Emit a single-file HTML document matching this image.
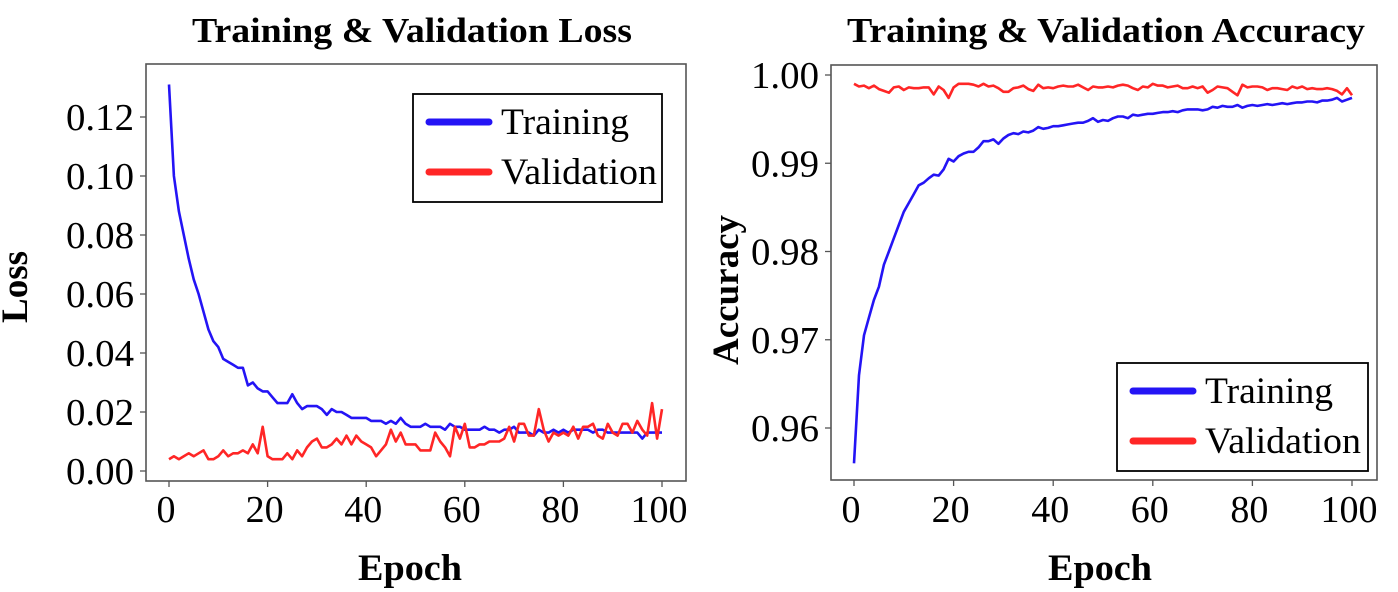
<!DOCTYPE html>
<html><head><meta charset="utf-8"><style>
html,body{margin:0;padding:0;background:#fff;}
svg{display:block;font-family:"Liberation Serif","Times New Roman",serif;}
svg text{font-family:"Liberation Serif","Times New Roman",serif;}
</style></head><body>
<svg id="chart" width="1398" height="592" viewBox="0 0 1398 592">
<g id="left"></g>
<g id="right"></g>
</svg>
<script>
const lossTicks = [0, 0.02, 0.04, 0.06, 0.08, 0.10, 0.12];
const lossTickLabels = ["0.00","0.02","0.04","0.06","0.08","0.10","0.12"];
const accTicks = [0.96, 0.97, 0.98, 0.99, 1.00];
const accTickLabels = ["0.96","0.97","0.98","0.99","1.00"];
const epochTicks = [0, 20, 40, 60, 80, 100];
const epochTickLabels = ["0","20","40","60","80","100"];
const trainLoss = [0.131,0.100,0.088,0.080,0.072,0.065,0.060,0.054,0.048,0.044,0.042,0.038,0.037,0.036,0.035,0.035,0.029,0.030,0.028,0.027,0.027,0.025,0.023,0.023,0.023,0.026,0.023,0.021,0.022,0.022,0.022,0.021,0.019,0.021,0.020,0.020,0.019,0.018,0.018,0.018,0.018,0.017,0.017,0.017,0.016,0.017,0.016,0.018,0.016,0.015,0.015,0.015,0.016,0.015,0.015,0.015,0.014,0.016,0.015,0.015,0.014,0.014,0.014,0.014,0.015,0.014,0.014,0.013,0.014,0.014,0.015,0.013,0.013,0.013,0.012,0.014,0.013,0.013,0.014,0.013,0.014,0.013,0.014,0.014,0.014,0.014,0.013,0.014,0.014,0.013,0.013,0.013,0.013,0.013,0.013,0.013,0.011,0.013,0.013,0.013,0.013];
const valLoss = [0.004,0.005,0.004,0.005,0.006,0.005,0.006,0.007,0.004,0.004,0.005,0.007,0.005,0.006,0.006,0.007,0.006,0.009,0.006,0.015,0.005,0.004,0.004,0.004,0.006,0.004,0.007,0.005,0.008,0.010,0.011,0.008,0.008,0.009,0.011,0.009,0.012,0.009,0.012,0.010,0.009,0.008,0.005,0.007,0.009,0.014,0.010,0.013,0.009,0.009,0.009,0.007,0.007,0.007,0.013,0.010,0.008,0.005,0.015,0.011,0.016,0.008,0.008,0.009,0.009,0.010,0.010,0.010,0.011,0.015,0.010,0.016,0.016,0.012,0.012,0.021,0.014,0.010,0.013,0.012,0.013,0.012,0.015,0.011,0.015,0.015,0.016,0.012,0.011,0.016,0.013,0.012,0.016,0.016,0.013,0.017,0.014,0.012,0.023,0.011,0.021];
const trainAcc = [0.956,0.966,0.9705,0.9725,0.9745,0.9760,0.9785,0.9800,0.9815,0.9830,0.9845,0.9855,0.9865,0.9875,0.9878,0.9883,0.9887,0.9886,0.9893,0.9905,0.9902,0.9908,0.9911,0.9913,0.9913,0.9918,0.9925,0.9925,0.9927,0.9922,0.9928,0.9932,0.9934,0.9933,0.9936,0.9935,0.9937,0.9941,0.9939,0.9940,0.9942,0.9942,0.9943,0.9944,0.9945,0.9946,0.9946,0.9948,0.9951,0.9947,0.9949,0.9948,0.9951,0.9953,0.9953,0.9951,0.9955,0.9954,0.9955,0.9956,0.9956,0.9957,0.9958,0.9958,0.9959,0.9958,0.9960,0.9961,0.9961,0.9961,0.9960,0.9961,0.9964,0.9963,0.9965,0.9964,0.9964,0.9966,0.9963,0.9965,0.9966,0.9965,0.9966,0.9967,0.9966,0.9967,0.9968,0.9967,0.9968,0.9969,0.9969,0.9970,0.9970,0.9969,0.9971,0.9971,0.9972,0.9974,0.9970,0.9972,0.9974];
const valAcc = [0.9990,0.9987,0.9988,0.9985,0.9988,0.9984,0.9982,0.9980,0.9986,0.9987,0.9983,0.9986,0.9985,0.9985,0.9986,0.9986,0.9978,0.9987,0.9983,0.9974,0.9986,0.9990,0.9990,0.9990,0.9989,0.9987,0.9990,0.9987,0.9988,0.9985,0.9981,0.9981,0.9985,0.9986,0.9988,0.9984,0.9982,0.9989,0.9985,0.9986,0.9985,0.9987,0.9988,0.9987,0.9987,0.9989,0.9986,0.9983,0.9987,0.9986,0.9986,0.9987,0.9986,0.9988,0.9989,0.9988,0.9985,0.9983,0.9987,0.9986,0.9990,0.9988,0.9988,0.9986,0.9987,0.9988,0.9985,0.9985,0.9987,0.9985,0.9987,0.9980,0.9983,0.9987,0.9986,0.9985,0.9981,0.9977,0.9989,0.9986,0.9987,0.9987,0.9986,0.9983,0.9985,0.9985,0.9984,0.9983,0.9987,0.9985,0.9987,0.9984,0.9985,0.9984,0.9984,0.9985,0.9984,0.9982,0.9978,0.9985,0.9977];

const NS = "http://www.w3.org/2000/svg";
const FONT = '"Liberation Serif", "Times New Roman", serif';
function mk(parent, tag, attrs, text) {
  const e = document.createElementNS(NS, tag);
  for (const k in attrs) e.setAttribute(k, attrs[k]);
  if (tag === "text") e.setAttribute("font-family", FONT);
  if (text !== undefined) e.textContent = text;
  parent.appendChild(e);
  return e;
}
function linScale(d0, d1, r0, r1) { return v => r0 + (v - d0) / (d1 - d0) * (r1 - r0); }

function drawChart(g, cfg) {
  const xs = linScale(0, 100, cfg.x0, cfg.x100);
  const ys = linScale(cfg.yv0, cfg.yv1, cfg.yp0, cfg.yp1);
  let t = mk(g, "text", {x: cfg.titleX, y: 42, "font-size": 35, "font-weight": "bold", "text-anchor": "middle", textLength: cfg.titleW, lengthAdjust: "spacingAndGlyphs"}, cfg.title);
  
  
  let f = mk(g, "rect", {x: cfg.fx, y: cfg.fy, width: cfg.fw, height: cfg.fh, fill: "none", stroke: "#555", "stroke-width": 1.6});
  
  
  cfg.yTicks.forEach((v, i) => {
    const y = ys(v);
    let tk = mk(g, "line", {x1: cfg.fx - 6, x2: cfg.fx, y1: y, y2: y, stroke: "#555", "stroke-width": 1.3});
    
    
    let lb = mk(g, "text", {x: cfg.fx - 12, y: y + 13, "font-size": 38, "text-anchor": "end", textLength: 68, lengthAdjust: "spacingAndGlyphs"}, cfg.yLabels[i]);
    
    
  });
  epochTicks.forEach((v, i) => {
    const x = xs(v);
    let tk = mk(g, "line", {x1: x, x2: x, y1: cfg.fy + cfg.fh, y2: cfg.fy + cfg.fh + 6, stroke: "#555", "stroke-width": 1.3});
    
    
    let lb = mk(g, "text", {x: x - 3, y: 522, "font-size": 38, "text-anchor": "middle"}, epochTickLabels[i]);
    
    
  });
  let xl = mk(g, "text", {x: cfg.xlabX, y: 580, "font-size": 37, "font-weight": "bold", "text-anchor": "middle", textLength: 104, lengthAdjust: "spacingAndGlyphs"}, "Epoch");
  
  
  let yl = mk(g, "text", {x: 0, y: 0, "font-size": 37, "font-weight": "bold", "text-anchor": "middle", transform: `translate(${cfg.ylabX},${cfg.ylabY}) rotate(-90)`}, cfg.yTitle);
  
  
  const series = [[cfg.train, "#2414f5", "training-line"], [cfg.val, "#ff2626", "validation-line"]];
  series.forEach(([arr, col, name]) => {
    const n = arr.length;
    const pts = arr.map((v, i) => xs(i * 100 / (n - 1)).toFixed(1) + "," + ys(v).toFixed(1)).join(" ");
    let pl = mk(g, "polyline", {points: pts, fill: "none", stroke: col, "stroke-width": 2.6, "stroke-linejoin": "round"});
    
    
  });
  const L = cfg.leg;
  let lg = mk(g, "g", {});
  
  
  mk(lg, "rect", {x: L.x, y: L.y, width: L.w, height: L.h, fill: "#fff", stroke: "#000", "stroke-width": 1.8});
  [["Training", "#2414f5", 28, 128], ["Validation", "#ff2626", 78, 156]].forEach(([lab, col, dy, tl]) => {
    let ln = mk(lg, "line", {x1: L.x + 16, x2: L.x + 76, y1: L.y + dy, y2: L.y + dy, stroke: col, "stroke-width": 7, "stroke-linecap": "round"});
    
    
    let tx = mk(lg, "text", {x: L.x + 88, y: L.y + dy + 12, "font-size": 37, textLength: tl, lengthAdjust: "spacingAndGlyphs"}, lab);
    
    
  });
}

drawChart(document.getElementById("left"), {
  title: "Training & Validation Loss", titleX: 412, titleW: 440,
  fx: 146, fy: 64, fw: 540, fh: 417,
  x0: 169, x100: 662, yv0: 0, yv1: 0.12, yp0: 471, yp1: 117,
  yTicks: lossTicks, yLabels: lossTickLabels, yTitle: "Loss",
  xlabX: 410, ylabX: 27, ylabY: 287,
  train: trainLoss, val: valLoss,
  leg: {x: 413, y: 94, w: 249, h: 108}
});
drawChart(document.getElementById("right"), {
  title: "Training & Validation Accuracy", titleX: 1106, titleW: 518,
  fx: 831, fy: 65, fw: 546, fh: 415,
  x0: 854, x100: 1352, yv0: 0.96, yv1: 1.00, yp0: 428, yp1: 75,
  yTicks: accTicks, yLabels: accTickLabels, yTitle: "Accuracy",
  xlabX: 1100, ylabX: 738, ylabY: 290,
  train: trainAcc, val: valAcc,
  leg: {x: 1117, y: 363, w: 251, h: 108}
});
</script>
</body></html>
